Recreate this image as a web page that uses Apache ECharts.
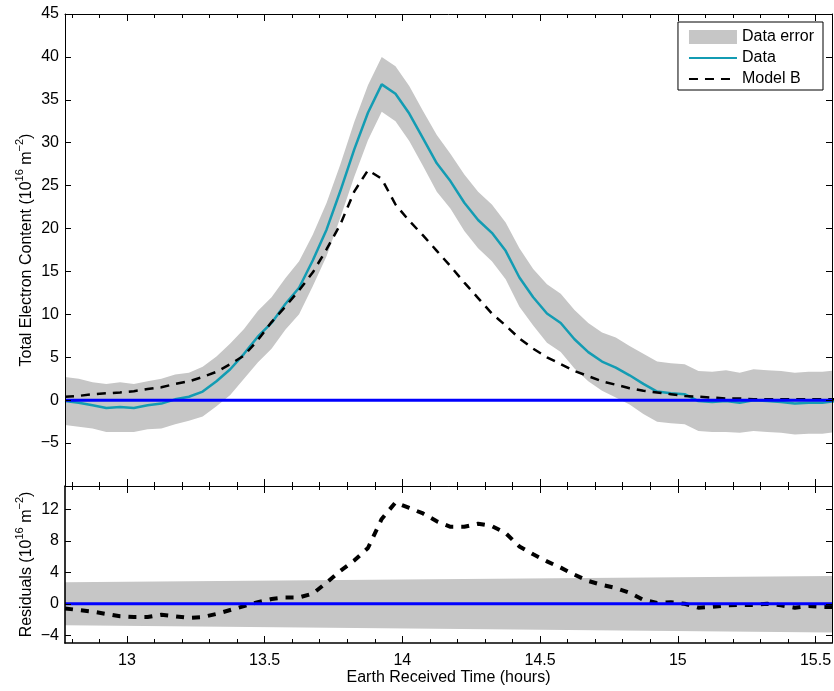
<!DOCTYPE html>
<html><head><meta charset="utf-8">
<script src="https://cdn.jsdelivr.net/npm/echarts@6/dist/echarts.min.js"></script>
<style>html,body{margin:0;padding:0;background:#fff}#c{width:834px;height:691px}</style>
</head><body><div id="c"></div>
<script>
// ---- data (hours, 10^16 m^-2) ----
const times = [
12.775, 12.825, 12.875, 12.925, 12.975,
13.025, 13.075, 13.125, 13.175, 13.225,
13.275, 13.325, 13.375, 13.425, 13.475,
13.525, 13.575, 13.625, 13.675, 13.725,
13.775, 13.825, 13.875, 13.925, 13.975,
14.025, 14.075, 14.125, 14.175, 14.225,
14.275, 14.325, 14.375, 14.425, 14.475,
14.525, 14.575, 14.625, 14.675, 14.725,
14.775, 14.825, 14.875, 14.925, 14.975,
15.025, 15.075, 15.125, 15.175, 15.225,
15.275, 15.325, 15.375, 15.425, 15.475,
15.525, 15.575];
const dataTEC = [
-0.1, -0.3, -0.6, -0.9, -0.8,
-0.9, -0.6, -0.4, 0.1, 0.4,
1.0, 2.2, 3.6, 5.4, 7.4,
9.0, 11.2, 13.1, 16.3, 19.9,
24.4, 29.2, 33.5, 36.8, 35.7,
33.4, 30.5, 27.6, 25.5, 23.0,
21.0, 19.5, 17.4, 14.3, 12.0,
10.1, 9.0, 7.1, 5.6, 4.5,
3.8, 2.9, 1.9, 1.0, 0.8,
0.7, -0.1, -0.2, -0.1, -0.3,
0.0, -0.1, -0.2, -0.4, -0.3,
-0.3, -0.1];
const dataErr = [
2.8, 2.8, 2.7, 2.8, 2.9,
2.8, 2.8, 2.9, 2.9, 2.8,
2.9, 2.9, 3.0, 2.9, 3.0,
3.0, 3.0, 3.1, 3.0, 3.1,
3.1, 3.2, 3.2, 3.2, 3.2,
3.2, 3.2, 3.3, 3.2, 3.3,
3.3, 3.3, 3.3, 3.4, 3.3,
3.4, 3.4, 3.4, 3.4, 3.4,
3.5, 3.4, 3.5, 3.5, 3.5,
3.5, 3.5, 3.5, 3.6, 3.5,
3.6, 3.6, 3.6, 3.6, 3.6,
3.6, 3.6];
const modelB = [
0.4, 0.5, 0.7, 0.8, 0.9,
1.05, 1.3, 1.5, 1.9, 2.2,
2.7, 3.3, 4.2, 5.2, 7.0,
9.1, 10.9, 12.8, 14.9, 17.6,
20.5, 24.3, 26.8, 25.8, 22.8,
20.9, 19.2, 17.4, 15.6, 13.7,
11.9, 10.1, 8.7, 7.2, 6.0,
5.0, 4.2, 3.4, 2.8, 2.2,
1.8, 1.4, 1.1, 0.9, 0.7,
0.5, 0.4, 0.3, 0.2, 0.2,
0.1, 0.1, 0.1, 0.1, 0.1,
0.1, 0.1];
const residuals = [
-0.6, -0.8, -1.0, -1.3, -1.6,
-1.7, -1.7, -1.4, -1.6, -1.8,
-1.7, -1.3, -0.8, -0.3, 0.2,
0.6, 0.8, 0.8, 1.3, 2.7,
4.2, 5.5, 7.1, 10.8, 12.9,
12.2, 11.5, 10.5, 9.8, 9.8,
10.2, 9.9, 9.0, 7.3, 6.3,
5.4, 4.6, 3.7, 2.9, 2.4,
2.0, 1.4, 0.5, 0.1, 0.2,
0.0, -0.5, -0.4, -0.2, -0.15,
-0.15, 0.0, -0.2, -0.5, -0.3,
-0.4, -0.4];
const resBandT = [12.775, 15.56];
const resBandLow = [-2.75, -3.65];
const resBandHigh = [2.75, 3.55];
const zeroT = [12.775, 15.56];
const zeroV = [0, 0];
const xMajorTicks = [13, 13.5, 14, 14.5, 15, 15.5];
const xMinorTicks = [12.8, 12.9, 13.0, 13.1, 13.2, 13.3, 13.4, 13.5, 13.6, 13.7, 13.8, 13.9,
  14.0, 14.1, 14.2, 14.3, 14.4, 14.5, 14.6, 14.7, 14.8, 14.9, 15.0, 15.1, 15.2, 15.3, 15.4, 15.5];
const tecTicks = [-10, -5, 0, 5, 10, 15, 20, 25, 30, 35, 40, 45];
const tecLabels = [-5, 0, 5, 10, 15, 20, 25, 30, 35, 40, 45];
const resTicks = [-4, 0, 4, 8, 12];

// ---- build ----
const FONT = 'Liberation Sans, Arial, Helvetica, sans-serif';
const X_MIN = 12.775, X_MAX = 15.56;
const GRAY = '#c6c6c6';
const zip = (a, b) => a.map((v, i) => [v, b[i]]);
const minus = v => String(v).replace('-', '\u2212');

function bandSeries(name, xi, yi, tArr, lowArr, highArr) {
  return {
    name: name, type: 'custom', xAxisIndex: xi, yAxisIndex: yi, silent: true,
    itemStyle: { color: GRAY },
    data: [[tArr[0], lowArr[0]]],
    renderItem: function (params, api) {
      if (params.dataIndex !== 0) return;
      const pts = [];
      for (let i = 0; i < tArr.length; i++) pts.push(api.coord([tArr[i], highArr[i]]));
      for (let i = tArr.length - 1; i >= 0; i--) pts.push(api.coord([tArr[i], lowArr[i]]));
      const cs = params.coordSys;
      return {
        type: 'polygon', shape: { points: pts }, style: { fill: GRAY, stroke: null },
        clipPath: { type: 'rect', shape: { x: cs.x, y: cs.y, width: cs.width, height: cs.height } }
      };
    }
  };
}

function xAx(grid, pos, ticks, len, label, line, lw, extra) {
  return Object.assign({
    type: 'value', gridIndex: grid, position: pos, min: X_MIN, max: X_MAX, z: 10,
    nameMoveOverlap: false,
    axisLine: { show: line, onZero: false, lineStyle: { color: '#000', width: lw } },
    axisTick: { show: true, inside: true, length: len, customValues: ticks, lineStyle: { color: '#000', width: 1 } },
    axisLabel: { show: label, customValues: xMajorTicks, color: '#000', fontSize: 16, fontFamily: FONT, margin: 10 },
    splitLine: { show: false }
  }, extra || {});
}
function yAx(grid, pos, min, max, ticks, labels, lw, extra) {
  return Object.assign({
    type: 'value', gridIndex: grid, position: pos, min: min, max: max, z: 10,
    nameMoveOverlap: false,
    axisLine: { show: true, onZero: false, lineStyle: { color: '#000', width: lw } },
    axisTick: { show: true, inside: true, length: 6, customValues: ticks, lineStyle: { color: '#000', width: 1 } },
    axisLabel: { show: !!labels, customValues: labels || ticks, color: '#000', fontSize: 16, fontFamily: FONT, margin: 6, formatter: minus },
    splitLine: { show: false }
  }, extra || {});
}
const nameStyle = {
  fontSize: 16, color: '#000', fontFamily: FONT, lineHeight: 26,
  rich: { sup: { fontSize: 11, verticalAlign: 'top', lineHeight: 12, fontFamily: FONT, color: '#000' } }
};
const noSym = { color: 'rgba(0,0,0,0)', borderColor: 'rgba(0,0,0,0)', borderWidth: 0, opacity: 0 };

const option = {
  animation: false,
  backgroundColor: '#fff',
  grid: [
    { left: 65, top: 14, width: 767, height: 472, outerBoundsMode: 'none', containLabel: false },
    { left: 65, top: 486, width: 767, height: 157, outerBoundsMode: 'none', containLabel: false }
  ],
  xAxis: [
    xAx(0, 'bottom', xMajorTicks, 7, false, true, 1),
    xAx(0, 'bottom', xMinorTicks, 4, false, false, 1),
    xAx(0, 'top', xMajorTicks, 7, false, true, 1),
    xAx(0, 'top', xMinorTicks, 4, false, false, 1),
    xAx(1, 'bottom', xMajorTicks, 7, true, true, 1.6, {
      name: 'Earth Received Time (hours)', nameLocation: 'middle', nameGap: 27,
      nameTextStyle: { fontSize: 16, color: '#000', fontFamily: FONT }
    }),
    xAx(1, 'bottom', xMinorTicks, 4, false, false, 1),
    xAx(1, 'top', xMajorTicks, 7, false, true, 1),
    xAx(1, 'top', xMinorTicks, 4, false, false, 1)
  ],
  yAxis: [
    yAx(0, 'left', -10, 45, tecTicks, tecLabels, 1, {
      name: 'Total Electron Content (10{sup|16} m{sup|\u22122})', nameLocation: 'middle', nameGap: 25, nameRotate: 90,
      nameTextStyle: nameStyle
    }),
    yAx(0, 'right', -10, 45, tecTicks, null, 1),
    yAx(1, 'left', -5, 15, resTicks, resTicks, 1.6, {
      name: 'Residuals (10{sup|16} m{sup|\u22122})', nameLocation: 'middle', nameGap: 25, nameRotate: 90,
      nameTextStyle: nameStyle
    }),
    yAx(1, 'right', -5, 15, resTicks, null, 1)
  ],
  legend: {
    orient: 'vertical', top: 22, right: 11,
    backgroundColor: '#fff', borderColor: '#000', borderWidth: 1, borderRadius: 0,
    padding: [7, 9, 3, 10], itemGap: 5, itemWidth: 48, itemHeight: 14,
    textStyle: { fontSize: 16, color: '#000', fontFamily: FONT },
    data: [
      { name: 'Data error', icon: 'rect', itemStyle: { color: GRAY } },
      { name: 'Data', itemStyle: noSym },
      { name: 'Model B', itemStyle: noSym }
    ]
  },
  series: [
    bandSeries('Data error', 0, 0, times,
      dataTEC.map((v, i) => v - dataErr[i]), dataTEC.map((v, i) => v + dataErr[i])),
    { name: 'Data', type: 'line', xAxisIndex: 0, yAxisIndex: 0, data: zip(times, dataTEC),
      symbol: 'none', lineStyle: { color: '#139cb3', width: 2.5 }, itemStyle: { color: '#139cb3' } },
    { name: 'Model B', type: 'line', xAxisIndex: 0, yAxisIndex: 0, data: zip(times, modelB),
      symbol: 'none', lineStyle: { color: '#000', width: 2.5, type: [9, 7] }, itemStyle: { color: '#000' } },
    { name: 'zero1', type: 'line', xAxisIndex: 0, yAxisIndex: 0, data: zip(zeroT, zeroV),
      symbol: 'none', lineStyle: { color: '#0000ff', width: 3 }, silent: true, z: 5 },

    bandSeries('resBand', 4, 2, resBandT, resBandLow, resBandHigh),
    { name: 'Residuals', type: 'line', xAxisIndex: 4, yAxisIndex: 2, data: zip(times, residuals),
      symbol: 'none', lineStyle: { color: '#000', width: 4, type: [8, 8] } },
    { name: 'zero2', type: 'line', xAxisIndex: 4, yAxisIndex: 2, data: zip(zeroT, zeroV),
      symbol: 'none', lineStyle: { color: '#0000ff', width: 3 }, silent: true, z: 5 }
  ]
};
const chart = echarts.init(document.getElementById('c'), null, { renderer: 'canvas' });
chart.setOption(option);
</script></body></html>
